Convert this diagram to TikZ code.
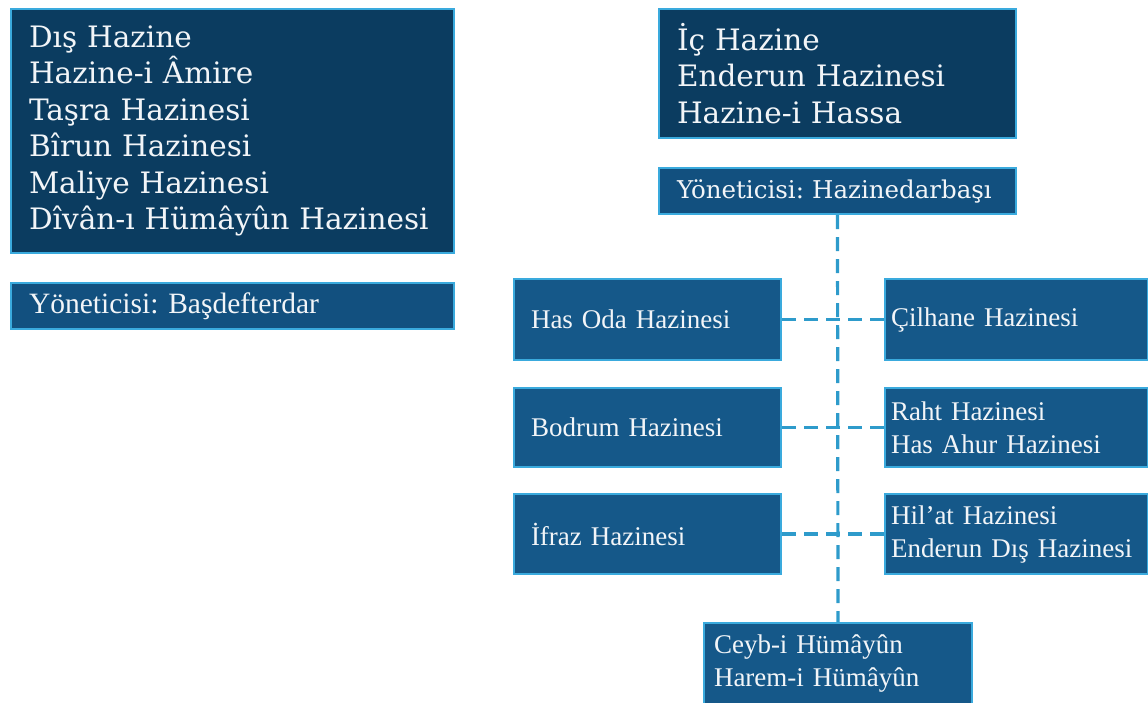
\documentclass[tikz,border=0pt]{standalone}
\usepackage{fontspec}
\newfontfamily\wideserif{DejaVu Serif}
\newfontfamily\narrowserif{Liberation Serif}
\definecolor{darkfill}{HTML}{0B3C60}
\definecolor{midfill}{HTML}{12507F}
\definecolor{lowfill}{HTML}{155889}
\definecolor{boxedge}{HTML}{3AAADD}
\definecolor{dashcol}{HTML}{2E9BCB}
\definecolor{txt}{HTML}{F2F5F8}
\begin{document}
\frenchspacing
\begin{tikzpicture}[x=1pt,y=-1pt,
  box/.style={draw=boxedge, line width=2pt, anchor=north west, inner ysep=0pt,
              align=left, text=txt},
  bigbox/.style={box, fill=darkfill, font={\frenchspacing\wideserif\fontsize{29.5}{36.5}\selectfont}},
  headbox/.style={box, fill=midfill},
  lowbox/.style={box, fill=lowfill, font={\frenchspacing\narrowserif\fontsize{27}{33}\selectfont}},
  conn/.style={draw=dashcol, line width=3.2pt, dash pattern=on 14pt off 8pt}]
\useasboundingbox (0,0) rectangle (1148,702);

% left column
\node[bigbox, minimum width=443pt, minimum height=244pt, text width=407pt, inner xsep=18pt]
  (dis) at (10,8) {Dış Hazine\\Hazine-i Âmire\\Taşra Hazinesi\\Bîrun Hazinesi\\Maliye Hazinesi\\Dîvân-ı Hümâyûn Hazinesi};
\node[headbox, minimum width=443pt, minimum height=46pt, text width=407pt, inner xsep=18pt,
  font={\frenchspacing\narrowserif\fontsize{29.5}{34}\selectfont}]
  (basdef) at (10,282) {Yöneticisi: Başdefterdar};

% right column
\node[bigbox, minimum width=357pt, minimum height=129pt, text width=321pt, inner xsep=18pt]
  (ic) at (658,8) {İç Hazine\\Enderun Hazinesi\\Hazine-i Hassa};
\node[headbox, minimum width=357pt, minimum height=46pt, text width=321pt, inner xsep=18pt,
  font={\frenchspacing\wideserif\fontsize{24.5}{30}\selectfont}]
  (hzb) at (658,167) {Yöneticisi: Hazinedarbaşı};

\node[lowbox, minimum width=267pt, minimum height=81pt, text width=233pt, inner xsep=17pt]
  (hasoda) at (513,278) {Has Oda Hazinesi};
\node[lowbox, minimum width=267pt, minimum height=79pt, text width=233pt, inner xsep=17pt]
  (bodrum) at (513,387) {Bodrum Hazinesi};
\node[lowbox, minimum width=267pt, minimum height=80pt, text width=233pt, inner xsep=17pt]
  (ifraz) at (513,493) {İfraz Hazinesi};

\node[lowbox, minimum width=263pt, minimum height=81pt, text width=251pt, inner xsep=6pt]
  (cilhane) at (884,278) {Çilhane Hazinesi};
\node[lowbox, minimum width=263pt, minimum height=79pt, text width=251pt, inner xsep=6pt]
  (raht) at (884,387) {Raht Hazinesi\\Has Ahur Hazinesi};
\node[lowbox, minimum width=263pt, minimum height=80pt, text width=251pt, inner xsep=6pt]
  (hilat) at (884,493) {Hil’at Hazinesi\\Enderun Dış Hazinesi};

\node[lowbox, minimum width=268pt, minimum height=82pt, text width=248pt, inner xsep=10pt]
  (ceyb) at (703,622) {Ceyb-i Hümâyûn\\Harem-i Hümâyûn};

% connectors
\draw[conn] (hzb.south) -- (ceyb.north);
\draw[conn] (hasoda.east) -- (cilhane.west);
\draw[conn] (bodrum.east) -- (raht.west);
\draw[conn] (ifraz.east) -- (hilat.west);
\end{tikzpicture}
\end{document}
